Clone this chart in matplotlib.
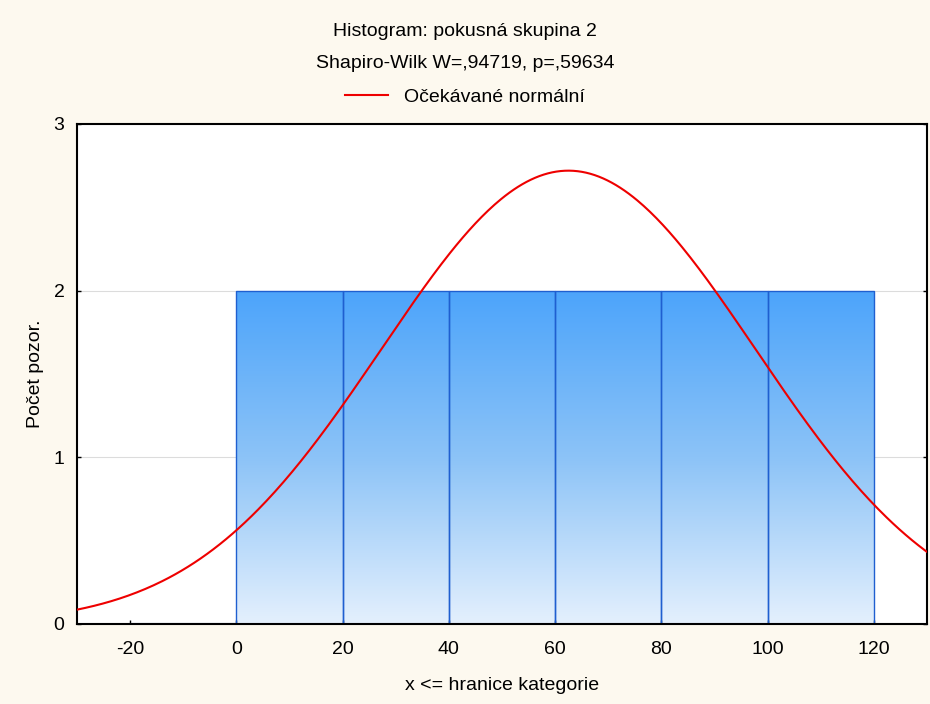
import numpy as np
import matplotlib
matplotlib.use("Agg")
import matplotlib.pyplot as plt
from matplotlib.colors import LinearSegmentedColormap

plt.rcParams['font.family'] = ['Liberation Sans', 'DejaVu Sans']
plt.rcParams['axes.unicode_minus'] = False

# histogram bins (left edges) and counts
bin_left = [-20, 0, 20, 40, 60, 80, 100]
bin_width = 20
counts = [0, 2, 2, 2, 2, 2, 2]

# expected normal curve parameters
n_obs = 12
mean = 62.5
sd = 35.2

title1 = "Histogram: pokusná skupina 2"
title2 = "Shapiro-Wilk W=,94719, p=,59634"
legend_label = "Očekávané normální"

bg = "#fdf9ef"
fig = plt.figure(figsize=(9.3, 7.04), dpi=100, facecolor=bg)
ax = fig.add_axes([77/930, 1-624/704, 850/930, 500/704])
ax.set_facecolor("white")

ax.set_xlim(-30, 130)
ax.set_ylim(0, 3)

# grid
for yv in [1, 2]:
    ax.axhline(yv, color="#dcdcdc", lw=0.8, zorder=0)

cmap = LinearSegmentedColormap.from_list("g", ["#e4f0fd", "#8cc3f7", "#4ca4fb"])
grad = np.linspace(0, 1, 256).reshape(-1, 1)
for x0, c in zip(bin_left, counts):
    if c > 0:
        im = ax.imshow(grad, extent=[x0, x0 + bin_width, 0, c], origin="lower",
                       cmap=cmap, aspect="auto", zorder=1)
        rect = plt.Rectangle((x0, 0), bin_width, c, facecolor="none",
                             edgecolor="#1f5fd0", lw=1.0, zorder=2)
        ax.add_patch(rect)
        im.set_clip_path(rect)
    else:
        ax.plot([x0, x0 + bin_width], [0, 0], color="#1f4fa0", lw=1.5, zorder=2)

xs = np.linspace(-30, 130, 400)
ys = n_obs * bin_width * np.exp(-(xs - mean) ** 2 / (2 * sd ** 2)) / (sd * np.sqrt(2 * np.pi))
ax.plot(xs, ys, color="#ee0000", lw=1.5, zorder=3, label=legend_label)

ax.set_xticks([-20, 0, 20, 40, 60, 80, 100, 120])
ax.set_yticks([0, 1, 2, 3])
ax.tick_params(direction="in", length=3, width=1, labelsize=14, right=True)
ax.tick_params(axis="x", pad=12)
ax.tick_params(axis="y", pad=9)
for s in ax.spines.values():
    s.set_linewidth(1.5)
    s.set_color("black")

ax.set_xlabel("x <= hranice kategorie", fontsize=14, labelpad=14)
ax.set_ylabel("Počet pozor.", fontsize=14, labelpad=7)

fig.text(0.5, 1-32/704, title1, ha="center", va="center", fontsize=14)
fig.text(0.5, 1-64/704, title2, ha="center", va="center", fontsize=14)
leg = fig.legend(loc="center", bbox_to_anchor=(0.5, 1-97/704), frameon=False,
                 fontsize=14, handlelength=2.2)

fig.savefig("out.png", dpi=100, facecolor=bg)
